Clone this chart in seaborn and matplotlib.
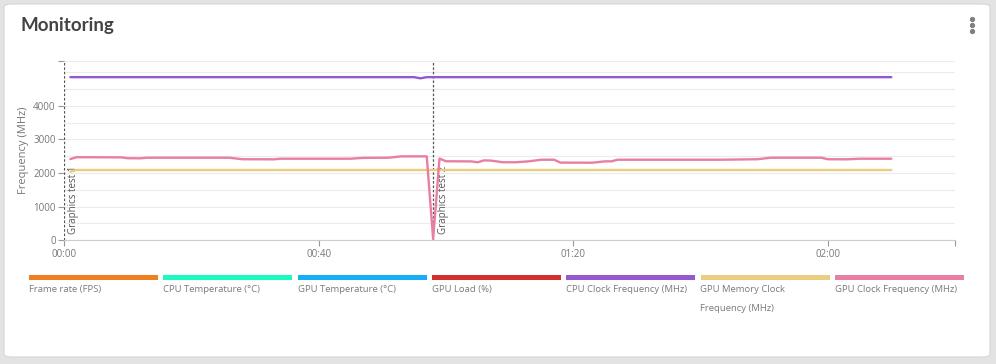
import pandas as pd
import matplotlib.pyplot as plt
import seaborn as sns
from matplotlib.patches import FancyBboxPatch, Rectangle
from matplotlib.ticker import MultipleLocator

# series (time in seconds, values in MHz)
cpu_clock_t = [1, 55, 56, 57, 130]
cpu_clock_v = [4850, 4850, 4815, 4850, 4850]

gpu_mem_t = [1, 2, 130]
gpu_mem_v = [2040, 2090, 2090]

gpu_clock_t = [1, 2, 9, 10, 12, 13, 26, 28, 33, 34, 45, 47, 51, 53, 57, 58, 59, 60, 64, 65,
               66, 67, 69, 71, 73, 75, 77, 78, 83, 85, 86, 87, 103, 109, 111, 119, 120, 123, 125, 130]
gpu_clock_v = [2416, 2470, 2465, 2440, 2437, 2455, 2455, 2410, 2407, 2425, 2425, 2450, 2455, 2495, 2495, 40, 2430, 2350, 2345, 2320,
               2375, 2370, 2320, 2320, 2347, 2395, 2395, 2310, 2306, 2347, 2347, 2395, 2395, 2410, 2455, 2455, 2410, 2407, 2425, 2425]

markers_t = [0, 58]
markers_label = ['Graphics test 1', 'Graphics test 2']

x_ticks = [0, 40, 80, 120, 140]
x_labels = ['00:00', '00:40', '01:20', '02:00', '']
y_ticks = [0, 1000, 2000, 3000, 4000, 5330]
y_labels = ['0', '1000', '2000', '3000', '4000', '']

legend_names = ['Frame rate (FPS)', 'CPU Temperature (°C)', 'GPU Temperature (°C)', 'GPU Load (%)',
                'CPU Clock Frequency (MHz)', 'GPU Memory Clock\nFrequency (MHz)', 'GPU Clock Frequency (MHz)']
legend_colors = ['#f07f22', '#1cfbbf', '#17aef7', '#d0312f', '#9458cf', '#e9cd80', '#e87fa3']

W, H = 996, 364


def fx(px):
    return px / W


def fy(py):
    return 1 - py / H


def build_frame():
    parts = [
        pd.DataFrame({'t': cpu_clock_t, 'value': cpu_clock_v, 'series': 'CPU Clock Frequency (MHz)'}),
        pd.DataFrame({'t': gpu_mem_t, 'value': gpu_mem_v, 'series': 'GPU Memory Clock\nFrequency (MHz)'}),
        pd.DataFrame({'t': gpu_clock_t, 'value': gpu_clock_v, 'series': 'GPU Clock Frequency (MHz)'}),
    ]
    return pd.concat(parts, ignore_index=True)


def main():
    sns.set_style('white')
    plt.rcParams['font.family'] = ['Open Sans', 'DejaVu Sans']

    fig = plt.figure(figsize=(W / 100, H / 100), dpi=100)
    fig.patch.set_facecolor('#e3e3e3')

    # white card
    card = FancyBboxPatch((fx(4), fy(357)), fx(986), 353 / H,
                          boxstyle='round,pad=0,rounding_size=0.008',
                          transform=fig.transFigure, facecolor='white',
                          edgecolor='#d6d6d6', linewidth=0.8, zorder=-5)
    fig.patches.append(card)

    fig.text(fx(20), fy(26), 'Monitoring', fontsize=13.5, fontweight='bold',
             color='#444444', family=['Lato', 'DejaVu Sans'], va='center', ha='left')
    for py in (19, 25, 31):
        fig.add_artist(plt.Line2D([fx(972)], [fy(py)], marker='o', markersize=2.8,
                                  color='#808080', transform=fig.transFigure))

    ax = fig.add_axes([fx(64), fy(240.3), fx(891), 179.3 / H])
    ax.set_zorder(2)
    ax.set_facecolor('none')

    data = build_frame()
    palette = dict(zip(legend_names, legend_colors))
    sns.lineplot(data=data, x='t', y='value', hue='series', palette=palette,
                 linewidth=1.7, ax=ax, legend=False, zorder=3)

    for t, label in zip(markers_t, markers_label):
        ax.axvline(t, color='#555555', linestyle=(0, (2, 1.5)), linewidth=0.9, zorder=2)
        ax.text(t + 0.7, 200, label, rotation=90, ha='left', va='bottom',
                fontsize=7, color='#555555', zorder=1)

    ax.set_xlim(0, 140)
    ax.set_ylim(0, 5330)
    ax.set_xticks(x_ticks, x_labels)
    ax.set_yticks(y_ticks, y_labels)
    ax.yaxis.set_minor_locator(MultipleLocator(500))
    ax.grid(True, which='both', axis='y', color='#ececec', linewidth=0.8)
    ax.grid(False, axis='x')
    ax.set_axisbelow(True)

    for side in ('top', 'right'):
        ax.spines[side].set_visible(False)
    ax.spines['left'].set_visible(False)
    ax.spines['bottom'].set_color('#cccccc')
    ax.tick_params(axis='both', which='major', labelsize=7, labelcolor='#777777',
                   color='#999999', length=4, width=0.8, pad=2, left=True, bottom=True)
    ax.tick_params(axis='y', which='minor', left=False)
    ax.set_xlabel('')
    ax.set_ylabel('Frequency (MHz)', fontsize=8, color='#777777', labelpad=3)

    # legend strip under the chart
    for i, (name, color) in enumerate(zip(legend_names, legend_colors)):
        x0 = 29 + i * 134.3
        fig.patches.append(Rectangle((fx(x0), fy(279.5)), fx(129), 4.5 / H,
                                     transform=fig.transFigure, facecolor=color,
                                     edgecolor='none'))
        fig.text(fx(x0), fy(285), name, fontsize=6.8, color='#7a7a7a',
                 ha='left', va='top', linespacing=2.45)

    fig.savefig('out.png', dpi=100, facecolor=fig.get_facecolor())


if __name__ == '__main__':
    main()
